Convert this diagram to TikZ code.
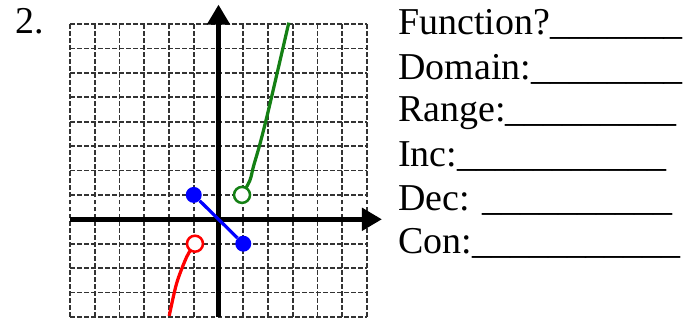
\documentclass[tikz,border=0pt]{standalone}
\usepackage{fontspec}
\setmainfont{Liberation Serif}
\usetikzlibrary{arrows.meta}
\definecolor{verdeoscuro}{RGB}{20,128,20}
\begin{document}
\begin{tikzpicture}[
    x=1cm,
    y=1cm,
    >={Triangle[length=0.5cm,width=0.55cm]},
    font=\fontsize{27}{32}\selectfont,
    cuadricula/.style={black!80,line width=1.3pt,dash pattern=on 3.5pt off 1.5pt},
    eje/.style={line width=3.5pt,->},
    trazo/.style={line width=2.3pt},
    lleno/.style={circle,fill=blue,inner sep=0pt,minimum size=0.4cm},
    hueco/.style={circle,draw,fill=white,line width=1.8pt,inner sep=0pt,minimum size=0.4cm},
    renglon/.style={anchor=base west,inner sep=0pt}
]
    \useasboundingbox (0,0) rectangle (17.35,8.05);
    \node[renglon] (numero) at (0.375,7.2) {2.};

    \begin{scope}[shift={(5.4625,2.5675)},x=0.619cm,y=0.61cm]
        \foreach \i in {-6,...,6}
            \draw[cuadricula] (\i,-4) -- (\i,8);
        \foreach \j in {-4,...,8}
            \draw[cuadricula] (-6,\j) -- (6,\j);
        \draw[eje] (-6,0) -- (6.6,0);
        \draw[eje] (0,-4) -- (0,8.8);

        % tramo rojo
        \coordinate (rc) at (-0.95,-1);
        \draw[trazo,red] plot[smooth] coordinates
            {(rc) (-1.28,-1.53) (-1.69,-2.62) (-1.99,-3.96)};
        \node[hueco,draw=red] (r0) at (rc) {};

        % tramo verde
        \coordinate (gc) at (0.95,1);
        \draw[trazo,verdeoscuro] plot[smooth] coordinates
            {(gc) (1.27,1.6) (1.41,2.16) (1.68,3.11) (2.05,4.61) (2.84,8.06)};
        \node[hueco,draw=verdeoscuro] (g0) at (gc) {};

        % tramo azul
        \node[lleno] (b1) at (-1,1) {};
        \node[lleno] (b2) at (1,-1) {};
        \draw[trazo,blue] (b1) -- (b2);
    \end{scope}

    \node[renglon] (funcion)  at (9.95,7.175) {Function?\_\_\_\_\_\_\_};
    \node[renglon] (dominio)  at (9.95,6.05)  {Domain:\_\_\_\_\_\_\_\_};
    \node[renglon] (rango)    at (9.95,5.0)   {Range:\_\_\_\_\_\_\_\_\_};
    \node[renglon] (crece)    at (9.95,3.875) {Inc:\_\_\_\_\_\_\_\_\_\_\_};
    \node[renglon] (decrece)  at (9.95,2.8)   {Dec: \_\_\_\_\_\_\_\_\_\_};
    \node[renglon] (continua) at (9.95,1.725) {Con:\_\_\_\_\_\_\_\_\_\_\_};
\end{tikzpicture}
\end{document}
